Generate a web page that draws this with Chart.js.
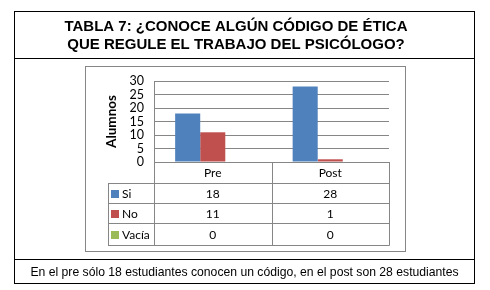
<!DOCTYPE html>
<html>
<head>
<meta charset="utf-8">
<script src="https://cdn.jsdelivr.net/npm/chart.js@4/dist/chart.umd.min.js"></script>
<style>
html,body{margin:0;padding:0;background:#fff;}
canvas{display:block;}
</style>
</head>
<body>
<canvas id="c" width="490" height="290"></canvas>
<script>
const titleLines = ['TABLA 7: ¿CONOCE ALGÚN CÓDIGO DE ÉTICA', 'QUE REGULE EL TRABAJO DEL PSICÓLOGO?'];
const footnote = 'En el pre sólo 18 estudiantes conocen un código, en el post son 28 estudiantes';
const categories = ['Pre', 'Post'];
const seriesNames = ['Si', 'No', 'Vacía'];
const siValues = [18, 28];
const noValues = [11, 1];
const vaciaValues = [0, 0];
const yTickValues = [0, 5, 10, 15, 20, 25, 30];
const yAxisTitle = 'Alumnos';

const seriesColors = ['#4F81BD', '#C0504D', '#9BBB59'];
const seriesValues = [siValues, noValues, vaciaValues];
const FONT = 'Lato, "Open Sans", sans-serif';
const GRID = '#868686';

const framePlugin = {
  id: 'frame',
  beforeDraw(chart) {
    const ctx = chart.ctx;
    ctx.save();
    ctx.fillStyle = '#fff';
    ctx.fillRect(0, 0, chart.width, chart.height);
    ctx.strokeStyle = '#000';
    ctx.lineWidth = 1;
    ctx.strokeRect(14.5, 11.5, 460, 272);
    ctx.beginPath();
    ctx.moveTo(14, 58.5); ctx.lineTo(475, 58.5);
    ctx.moveTo(14, 259.5); ctx.lineTo(475, 259.5);
    ctx.stroke();
    ctx.strokeStyle = GRID;
    ctx.strokeRect(85.5, 66.5, 320, 185);
    ctx.fillStyle = '#000';
    ctx.font = 'bold 15px "Liberation Sans", Arial, sans-serif';
    ctx.textAlign = 'center';
    ctx.textBaseline = 'alphabetic';
    ctx.fillText(titleLines[0], 236, 31);
    ctx.fillText(titleLines[1], 236, 49);
    ctx.font = '12.2px "Liberation Sans", Arial, sans-serif';
    ctx.fillText(footnote, 244.5, 276);
    ctx.restore();
  },
  afterDraw(chart) {
    const ctx = chart.ctx;
    const x = chart.scales.x;
    const area = chart.chartArea;
    const legendLeft = 108;
    const top = area.bottom;
    const rowH = [21, 20, 20, 22];
    const rows = [top];
    rowH.forEach(h => rows.push(rows[rows.length - 1] + h));
    ctx.save();
    ctx.strokeStyle = GRID;
    ctx.lineWidth = 1;
    ctx.beginPath();
    ctx.moveTo(area.left, top + 0.5); ctx.lineTo(area.right + 0.5, top + 0.5);
    for (let i = 1; i < rows.length; i++) {
      ctx.moveTo(legendLeft, rows[i] + 0.5); ctx.lineTo(area.right + 0.5, rows[i] + 0.5);
    }
    ctx.moveTo(legendLeft + 0.5, rows[1]); ctx.lineTo(legendLeft + 0.5, rows[rows.length - 1] + 0.5);
    ctx.moveTo(Math.round(area.left) + 0.5, top); ctx.lineTo(Math.round(area.left) + 0.5, rows[rows.length - 1] + 0.5);
    const step = (area.right - area.left) / categories.length;
    for (let i = 1; i <= categories.length; i++) {
      const xx = Math.round(area.left + step * i) + 0.5;
      ctx.moveTo(xx, top); ctx.lineTo(xx, rows[rows.length - 1] + 0.5);
    }
    ctx.stroke();
    ctx.fillStyle = '#000';
    ctx.font = '12px ' + FONT;
    ctx.textAlign = 'center';
    ctx.textBaseline = 'middle';
    categories.forEach((c, i) => {
      ctx.fillText(c, x.getPixelForValue(i), (rows[0] + rows[1]) / 2 + 1);
    });
    seriesNames.forEach((name, s) => {
      const cy = (rows[s + 1] + rows[s + 2]) / 2 + 1;
      ctx.fillStyle = seriesColors[s];
      ctx.fillRect(111, Math.round(cy) - 4, 8, 8);
      ctx.fillStyle = '#000';
      ctx.textAlign = 'left';
      ctx.fillText(name, 122, cy);
      ctx.textAlign = 'center';
      seriesValues[s].forEach((v, i) => {
        ctx.fillText(String(v), x.getPixelForValue(i), cy);
      });
    });
    ctx.restore();
  }
};

new Chart(document.getElementById('c'), {
  type: 'bar',
  data: {
    labels: categories,
    datasets: seriesNames.map((n, s) => ({
      label: n,
      data: seriesValues[s],
      backgroundColor: seriesColors[s],
      borderWidth: 0,
      barPercentage: 1,
      categoryPercentage: 0.64
    }))
  },
  options: {
    responsive: false,
    devicePixelRatio: 1,
    animation: false,
    layout: { padding: { left: 104, top: 81, right: 101, bottom: 128 } },
    plugins: { legend: { display: false }, tooltip: { enabled: false } },
    scales: {
      x: { display: false },
      y: {
        min: 0, max: 30,
        afterFit(scale) { scale.width = 50; },
        afterBuildTicks(scale) { scale.ticks = yTickValues.map(v => ({ value: v })); },
        ticks: { autoSkip: false, color: '#000', font: { family: FONT, size: 12.5 }, padding: 10 },
        grid: { color: GRID, drawTicks: false },
        border: { display: true, color: GRID },
        title: { display: true, text: yAxisTitle, color: '#000', font: { family: FONT, size: 13.5, weight: 'bold' }, padding: 0 }
      }
    }
  },
  plugins: [framePlugin]
});
</script>
</body>
</html>
